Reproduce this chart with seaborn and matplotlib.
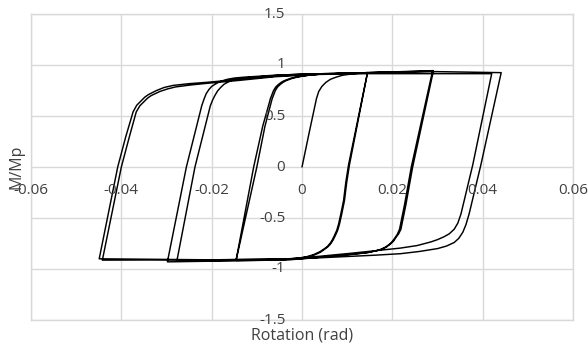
import numpy as np
import pandas as pd
import matplotlib
matplotlib.use("Agg")
import matplotlib.pyplot as plt
import seaborn as sns

# branches of the moment-rotation loop (rotation in rad, M/Mp)
init_x = [0.0, 0.0017, 0.0032, 0.0037, 0.0044, 0.0053, 0.0063, 0.0075, 0.0090, 0.0115, 0.0145]
init_y = [0.0, 0.36, 0.67, 0.74, 0.79, 0.83, 0.86, 0.88, 0.90, 0.915, 0.925]

# +-0.015 cycles
a1_down_x = [0.0145, 0.0124, 0.0103, 0.0097, 0.0092, 0.0086, 0.0081, 0.0077, 0.0072, 0.0067, 0.0062, 0.0056, 0.0050, 0.0040, 0.0025, 0.0010, -0.0010, -0.0040, -0.0080, -0.0146]
a1_down_y = [0.925, 0.47, 0.02, -0.15, -0.33, -0.46, -0.56, -0.62, -0.67, -0.715, -0.75, -0.78, -0.80, -0.83, -0.86, -0.88, -0.895, -0.905, -0.912, -0.915]
a1_up_x = [-0.0146, -0.0107, -0.0087, -0.0077, -0.0073, -0.0070, -0.0066, -0.0063, -0.0058, -0.0052, -0.0046, -0.0040, -0.0025, -0.0010, 0.0015, 0.0040, 0.0145]
a1_up_y = [-0.915, 0.0, 0.40, 0.555, 0.62, 0.67, 0.715, 0.75, 0.785, 0.81, 0.83, 0.845, 0.87, 0.885, 0.90, 0.91, 0.925]
a2_down_x = [0.0145, 0.0125, 0.0105, 0.0099, 0.0094, 0.0088, 0.0083, 0.0079, 0.0074, 0.0069, 0.0064, 0.0058, 0.0052, 0.0041, 0.0026, 0.0010, -0.0010, -0.0040, -0.0080, -0.0146]
a2_down_y = [0.925, 0.47, 0.02, -0.15, -0.33, -0.46, -0.56, -0.62, -0.67, -0.715, -0.75, -0.78, -0.80, -0.835, -0.865, -0.885, -0.898, -0.907, -0.914, -0.916]
a2_up_x = [-0.0146, -0.0100, -0.0082, -0.0073, -0.0069, -0.0066, -0.0062, -0.0059, -0.0054, -0.0048, -0.0042, -0.0036, -0.0021, -0.0006, 0.0015, 0.0040, 0.0145, 0.0291]
a2_up_y = [-0.916, 0.0, 0.40, 0.555, 0.62, 0.67, 0.715, 0.75, 0.785, 0.81, 0.83, 0.845, 0.87, 0.885, 0.90, 0.91, 0.925, 0.945]

# +-0.03 cycles
b1_down_x = [0.0291, 0.0245, 0.0230, 0.0224, 0.0219, 0.0214, 0.0208, 0.0203, 0.0197, 0.0187, 0.0175, 0.0150, 0.0121, 0.0085, 0.0047, 0.0010, -0.0027, -0.0150, -0.0298]
b1_down_y = [0.945, 0.0, -0.37, -0.50, -0.61, -0.655, -0.69, -0.725, -0.75, -0.785, -0.81, -0.835, -0.85, -0.865, -0.88, -0.895, -0.91, -0.92, -0.93]
b1_up_x = [-0.0298, -0.0256, -0.0222, -0.0217, -0.0212, -0.0206, -0.0200, -0.0193, -0.0185, -0.0175, -0.0165, -0.0150, -0.0130, -0.0095, -0.0060, 0.0, 0.0145, 0.0289]
b1_up_y = [-0.93, 0.0, 0.60, 0.665, 0.72, 0.76, 0.79, 0.81, 0.83, 0.847, 0.86, 0.872, 0.88, 0.89, 0.90, 0.91, 0.925, 0.94]
b2_down_x = [0.0289, 0.0242, 0.0227, 0.0221, 0.0216, 0.0211, 0.0205, 0.0199, 0.0193, 0.0182, 0.0170, 0.0145, 0.0115, 0.0078, 0.0040, 0.0005, -0.0030, -0.0150, -0.0277]
b2_down_y = [0.94, 0.0, -0.37, -0.50, -0.61, -0.66, -0.70, -0.735, -0.76, -0.792, -0.815, -0.84, -0.855, -0.87, -0.885, -0.895, -0.905, -0.915, -0.92]
b2_up_x = [-0.0277, -0.0237, -0.0203, -0.0198, -0.0193, -0.0187, -0.0180, -0.0173, -0.0165, -0.0155, -0.0145, -0.0130, -0.0110, -0.0080, -0.0050, 0.0, 0.0145, 0.0300, 0.0441]
b2_up_y = [-0.92, 0.0, 0.60, 0.655, 0.70, 0.745, 0.78, 0.81, 0.83, 0.85, 0.865, 0.873, 0.88, 0.89, 0.90, 0.91, 0.925, 0.935, 0.925]

# +-0.045 cycles
c1_down_x = [0.0441, 0.0396, 0.0383, 0.0370, 0.0363, 0.0356, 0.0347, 0.0337, 0.0320, 0.0300, 0.0260, 0.0218, 0.0160, 0.0110, 0.0040, -0.0030, -0.0200, -0.0449]
c1_down_y = [0.925, 0.02, -0.22, -0.46, -0.565, -0.64, -0.70, -0.74, -0.775, -0.80, -0.828, -0.85, -0.865, -0.875, -0.89, -0.905, -0.91, -0.90]
c1_up_x = [-0.0449, -0.0408, -0.0390, -0.0374, -0.0366, -0.0356, -0.0348, -0.0340, -0.0322, -0.0305, -0.0285, -0.0250, -0.0211, -0.0137, -0.0060, 0.0, 0.0145, 0.0300, 0.0420]
c1_up_y = [-0.90, 0.0, 0.30, 0.54, 0.605, 0.65, 0.685, 0.71, 0.75, 0.78, 0.80, 0.817, 0.83, 0.86, 0.89, 0.905, 0.915, 0.915, 0.915]
c2_down_x = [0.0420, 0.0378, 0.0365, 0.0352, 0.0345, 0.0337, 0.0326, 0.0314, 0.0300, 0.0285, 0.0255, 0.0218, 0.0160, 0.0110, 0.0040, -0.0030, -0.0200, -0.0442]
c2_down_y = [0.915, 0.02, -0.22, -0.46, -0.55, -0.61, -0.655, -0.685, -0.712, -0.735, -0.77, -0.795, -0.822, -0.845, -0.875, -0.90, -0.91, -0.913]
c2_up_x = [-0.0442, -0.0400, -0.0382, -0.0367, -0.0359, -0.0350, -0.0342, -0.0334, -0.0315, -0.0298, -0.0280, -0.0245, -0.0211, -0.0137, -0.0060, 0.0]
c2_up_y = [-0.913, 0.0, 0.30, 0.54, 0.60, 0.64, 0.675, 0.70, 0.74, 0.765, 0.785, 0.805, 0.82, 0.85, 0.885, 0.90]

x_ticks = [-0.06, -0.04, -0.02, 0, 0.02, 0.04, 0.06]
x_tick_labels = ["-0.06", "-0.04", "-0.02", "0", "0.02", "0.04", "0.06"]
y_ticks = [-1.5, -1, -0.5, 0, 0.5, 1, 1.5]
y_tick_labels = ["-1.5", "-1", "-0.5", "0", "0.5", "1", "1.5"]

branches = [
    (init_x, init_y),
    (a1_down_x, a1_down_y), (a1_up_x, a1_up_y),
    (a2_down_x, a2_down_y), (a2_up_x, a2_up_y),
    (b1_down_x, b1_down_y), (b1_up_x, b1_up_y),
    (b2_down_x, b2_down_y), (b2_up_x, b2_up_y),
    (c1_down_x, c1_down_y), (c1_up_x, c1_up_y),
    (c2_down_x, c2_down_y), (c2_up_x, c2_up_y),
]
rot = np.concatenate([b[0] for b in branches])
mom = np.concatenate([b[1] for b in branches])
df = pd.DataFrame({"rot": rot, "mom": mom})

sns.set_theme(style="white")
plt.rcParams["font.family"] = ["Open Sans", "DejaVu Sans"]

fig = plt.figure(figsize=(5.88, 3.49), dpi=100)
ax = fig.add_axes([31 / 588, 1 - 320 / 349, 542 / 588, 306 / 349])

sns.lineplot(data=df, x="rot", y="mom", sort=False, estimator=None,
             color="black", linewidth=1.05, ax=ax)

ax.set_xlim(-0.06, 0.06)
ax.set_ylim(-1.5, 1.5)
ax.set_xticks(x_ticks)
ax.set_yticks(y_ticks)
ax.grid(True, color="#d9d9d9", linewidth=1.0)
ax.set_axisbelow(True)
ax.tick_params(length=0, labelbottom=False, labelleft=False)
for s in ax.spines.values():
    s.set_color("#d9d9d9")
    s.set_linewidth(1.0)
ax.set_xlabel("")
ax.set_ylabel("")

# Excel-style tick labels sitting next to the axes that cross at 0
for v, lab in zip(x_ticks, x_tick_labels):
    ax.annotate(lab, xy=(v, 0), xytext=(0, -17), textcoords="offset points",
                ha="center", va="center", fontsize=11, color="#404040")
for v, lab in zip(y_ticks, y_tick_labels):
    ax.annotate(lab, xy=(0, v), xytext=(-12, 0), textcoords="offset points",
                ha="right", va="center", fontsize=11, color="#404040")

fig.text(302 / 588, 1 - 336 / 349, "Rotation (rad)", ha="center", va="center",
         fontsize=11.5, color="#404040")
fig.text(17 / 588, 1 - 167 / 349, "M/Mp", ha="center", va="center",
         rotation=90, fontsize=11.5, color="#404040")

fig.savefig("out.png", dpi=100)
